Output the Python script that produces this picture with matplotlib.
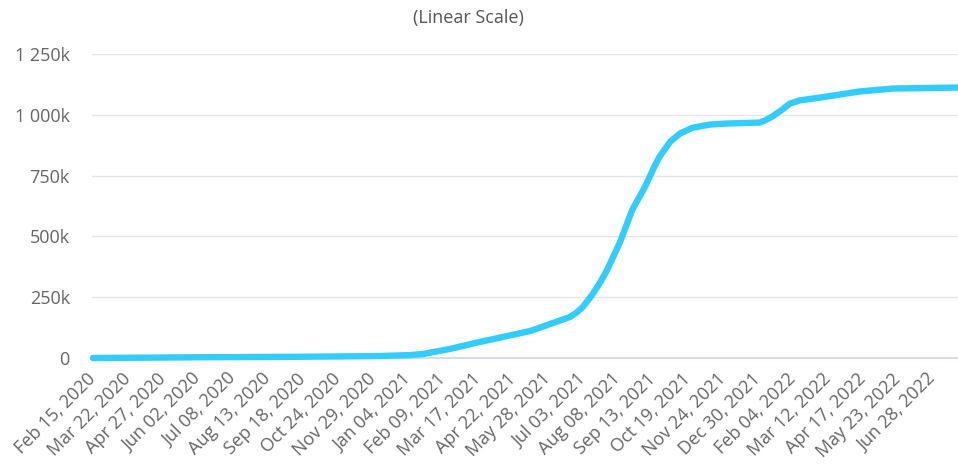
import matplotlib
matplotlib.use("Agg")
import matplotlib.pyplot as plt
import matplotlib.dates as mdates
import matplotlib.transforms as mtransforms
from matplotlib.ticker import FuncFormatter
import numpy as np
from datetime import datetime, timedelta

plt.rcParams['font.family'] = ['Open Sans', 'DejaVu Sans']

# cumulative total
dates = ["2020-02-15", "2020-06-04", "2020-09-15", "2020-12-06", "2021-01-06",
         "2021-01-19", "2021-02-16", "2021-03-19", "2021-05-10", "2021-06-20",
         "2021-06-27", "2021-07-03", "2021-07-13", "2021-07-21", "2021-07-28",
         "2021-08-10", "2021-08-23", "2021-09-05", "2021-09-15", "2021-09-20",
         "2021-10-01", "2021-10-11", "2021-10-24", "2021-11-11", "2021-11-28",
         "2022-01-01", "2022-01-06", "2022-01-14", "2022-01-24", "2022-02-01",
         "2022-02-11", "2022-03-11", "2022-04-14", "2022-05-18", "2022-06-20",
         "2022-07-24"]
totals = [0, 3000, 5000, 8000, 12000,
          16000, 37000, 66000, 111000, 169000,
          188000, 210000, 262000, 312000, 362000,
          474000, 610000, 704000, 790000, 828000,
          890000, 923000, 947000, 960000, 964000,
          968000, 976000, 993000, 1021000, 1046000,
          1059000, 1075000, 1096000, 1108000, 1110000,
          1112000]

y_ticks = [0, 250000, 500000, 750000, 1000000, 1250000]
first_tick = "2020-02-15"
tick_step_days = 36
n_ticks = 25

x = [datetime.strptime(d, "%Y-%m-%d") for d in dates]
start = datetime.strptime(first_tick, "%Y-%m-%d")
xticks = [start + timedelta(days=tick_step_days * i) for i in range(n_ticks)]

fig = plt.figure(figsize=(9.58, 4.69), dpi=100)
ax = fig.add_axes([92 / 958, 1 - 358 / 469, 866 / 958, (358 - 54) / 469])

ax.plot(x, totals, color='#33ccff', linewidth=4.6, solid_capstyle='round',
        solid_joinstyle='round', clip_on=False, zorder=3)

ax.set_ylim(0, 1250000)
ax.set_xlim(start - timedelta(days=1), x[-1])
ax.set_yticks(y_ticks)
ax.yaxis.set_major_formatter(FuncFormatter(
    lambda v, p: "0" if v == 0 else f"{v/1000:,.0f}k".replace(",", " ")))
ax.set_xticks(xticks)
ax.xaxis.set_major_formatter(mdates.DateFormatter("%b %d, %Y"))

shift = mtransforms.ScaledTranslation(-6 / 100, 0, fig.dpi_scale_trans)
for lab in ax.get_xticklabels():
    lab.set_rotation(45)
    lab.set_ha('right')
    lab.set_va('center')
    lab.set_rotation_mode('anchor')
    lab.set_transform(lab.get_transform() + shift)

ax.grid(axis='y', color='#e6e6e6', linewidth=1)
ax.set_axisbelow(True)
for s in ['top', 'right', 'left']:
    ax.spines[s].set_visible(False)
ax.spines['bottom'].set_color('#ccd6eb')
ax.spines['bottom'].set_linewidth(1.2)
ax.tick_params(axis='y', length=0, pad=16, labelsize=13, labelcolor='#666666')
ax.tick_params(axis='x', length=0, pad=13, labelsize=13, labelcolor='#666666')

fig.text(468 / 958, 1 - 18 / 469, "(Linear Scale)", ha='center', va='center',
         fontsize=13, color='#555555')

fig.savefig("out.png", dpi=100)
